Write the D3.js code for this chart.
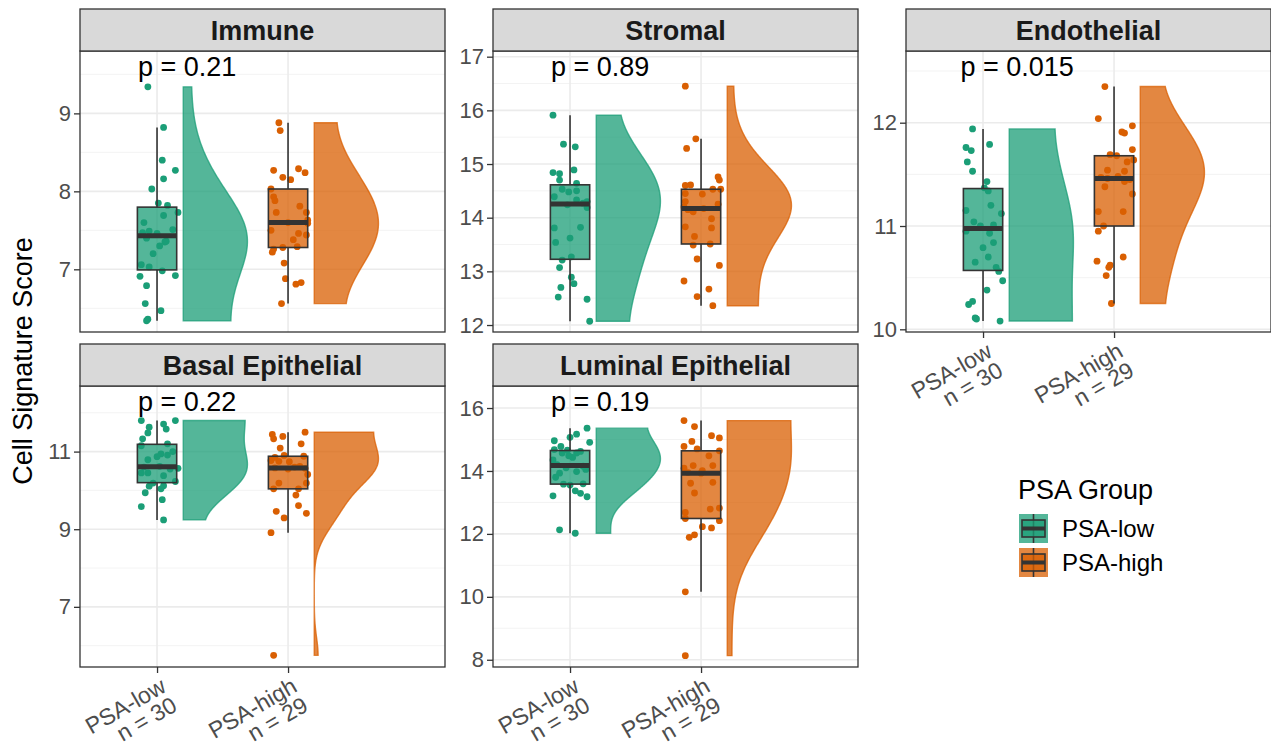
<!DOCTYPE html>
<html>
<head>
<meta charset="utf-8">
<script src="https://cdn.jsdelivr.net/npm/d3@7"></script>
<style>
  body { margin: 0; background: #fff; }
  svg { display: block; font-family: "Liberation Sans", Arial, Helvetica, sans-serif; }
</style>
</head>
<body>
<div id="chart"></div>
<script>
// ---- data ----
const categories = ["PSA-low", "PSA-high"];
const groupCounts = ["n = 30", "n = 29"];
const panelNames = ["Immune", "Stromal", "Endothelial", "Basal Epithelial", "Luminal Epithelial"];
const pLabels = ["p = 0.21", "p = 0.89", "p = 0.015", "p = 0.22", "p = 0.19"];

const yTicksImmune = [7, 8, 9];
const yTicksStromal = [12, 13, 14, 15, 16, 17];
const yTicksEndothelial = [10, 11, 12];
const yTicksBasal = [7, 9, 11];
const yTicksLuminal = [8, 10, 12, 14, 16];

const yLimitsImmune = [6.196, 9.80];
const yLimitsStromal = [11.87, 17.106];
const yLimitsEndothelial = [9.974, 12.694];
const yLimitsBasal = [5.45, 12.69];
const yLimitsLuminal = [7.77, 16.70];

const immuneLow = [9.34, 8.82, 8.40, 8.27, 8.16, 8.03, 7.85, 7.82, 7.73, 7.69, 7.51, 7.47, 7.49, 7.46, 7.40, 7.35, 7.36, 7.06, 7.03, 6.98, 6.91, 6.92, 6.79, 6.56, 6.47, 6.36, 6.34, 7.20, 7.30, 7.60];
const immuneHigh = [8.88, 8.78, 8.27, 8.29, 8.24, 8.18, 8.15, 8.03, 7.93, 7.88, 7.81, 7.73, 7.73, 7.63, 7.59, 7.50, 7.46, 7.44, 7.38, 7.26, 7.22, 7.28, 7.29, 7.08, 6.88, 6.81, 6.83, 6.56, 7.60];
const stromalLow = [15.91, 15.37, 15.32, 14.89, 14.84, 14.82, 14.70, 14.64, 14.53, 14.50, 14.48, 14.39, 14.33, 14.30, 14.19, 13.81, 13.82, 13.62, 13.54, 13.21, 13.27, 13.07, 12.89, 12.77, 12.70, 12.52, 12.48, 12.07, 14.24, 14.27];
const stromalHigh = [16.45, 15.47, 15.29, 14.76, 14.70, 14.61, 14.60, 14.53, 14.53, 14.45, 14.44, 14.30, 14.25, 14.11, 13.98, 13.83, 13.81, 13.65, 13.49, 13.51, 13.23, 13.11, 12.82, 12.67, 12.53, 12.36, 14.15, 14.17, 14.20];
const endoLow = [11.94, 11.79, 11.76, 11.73, 11.62, 11.53, 11.43, 11.37, 11.34, 11.20, 11.12, 11.15, 11.04, 10.95, 10.93, 10.84, 10.79, 10.70, 10.65, 10.56, 10.47, 10.38, 10.27, 10.24, 10.11, 10.10, 10.08, 10.60, 11.00, 11.01];
const endoHigh = [12.35, 12.04, 11.97, 11.91, 11.90, 11.74, 11.69, 11.68, 11.62, 11.64, 11.54, 11.53, 11.38, 11.31, 11.43, 11.14, 11.14, 10.95, 10.70, 10.66, 10.62, 10.60, 10.52, 10.25, 11.47, 11.48, 11.45, 11.00, 11.46];
const basalLow = [11.80, 11.80, 11.63, 11.71, 11.58, 11.48, 11.33, 11.15, 10.94, 10.91, 11.00, 10.87, 10.79, 10.57, 10.45, 10.45, 10.38, 10.23, 10.11, 10.12, 10.04, 9.94, 9.76, 9.58, 9.24, 10.19, 10.55, 10.60, 10.62, 11.20];
const basalHigh = [11.44, 11.33, 11.39, 11.50, 11.20, 11.09, 10.90, 10.77, 10.75, 10.74, 10.60, 10.57, 10.41, 10.19, 10.19, 10.04, 10.04, 9.88, 9.61, 9.41, 9.46, 9.29, 8.91, 5.75, 10.55, 10.58, 10.62, 10.88, 10.85];
const luminalLow = [15.36, 15.17, 15.07, 14.91, 14.96, 14.78, 14.68, 14.57, 14.57, 14.48, 14.43, 14.35, 13.98, 13.93, 13.80, 13.58, 13.37, 13.29, 13.18, 13.21, 12.13, 12.02, 14.10, 14.15, 14.20, 14.62, 14.66, 14.05, 13.55, 13.59];
const luminalHigh = [15.60, 15.41, 15.12, 15.05, 14.94, 14.78, 14.70, 14.64, 14.48, 14.17, 14.17, 14.09, 14.01, 13.61, 13.64, 13.30, 12.79, 12.82, 12.68, 12.49, 12.42, 12.23, 12.19, 11.89, 11.97, 10.16, 8.13, 13.93, 13.95];

// horizontal jitter of each point (in category units), as seen in the figure
const jitterImmuneLow = [-0.07, 0.05, 0.04, 0.14, 0.05, -0.04, 0.01, 0.08, 0.16, 0.05, 0.12, -0.11, -0.06, 0.00, -0.08, 0.06, 0.07, -0.12, -0.06, 0.04, -0.13, 0.14, -0.08, -0.09, 0.03, -0.07, -0.08, -0.03, 0.02, -0.10];
const jitterImmuneHigh = [-0.07, -0.06, -0.11, 0.08, 0.13, -0.04, 0.02, -0.13, -0.11, -0.10, 0.09, -0.09, 0.14, 0.15, 0.15, -0.13, 0.08, 0.14, 0.04, -0.11, -0.12, -0.04, 0.07, -0.03, -0.02, 0.06, 0.10, -0.05, 0.00];
const jitterStromalLow = [-0.13, -0.05, 0.04, 0.03, -0.13, -0.08, -0.08, 0.05, -0.06, 0.05, -0.01, -0.12, 0.05, 0.13, 0.13, -0.12, 0.08, 0.00, -0.11, -0.06, 0.01, -0.08, 0.01, 0.03, -0.07, -0.09, 0.13, 0.15, -0.02, 0.10];
const jitterStromalHigh = [-0.12, -0.04, -0.11, 0.13, 0.14, -0.08, -0.12, 0.09, 0.15, -0.12, 0.01, -0.12, 0.13, -0.06, 0.08, -0.12, 0.08, -0.05, -0.06, 0.07, -0.03, 0.14, -0.13, 0.06, -0.03, 0.09, -0.10, 0.02, -0.13];
const jitterEndoLow = [-0.08, 0.05, -0.13, -0.09, -0.12, -0.08, 0.03, 0.01, 0.04, 0.06, 0.14, -0.13, -0.07, -0.13, 0.05, 0.08, 0.00, 0.04, -0.06, 0.12, 0.15, 0.03, -0.08, -0.11, -0.06, -0.05, 0.13, 0.10, -0.02, 0.08];
const jitterEndoHigh = [-0.07, -0.12, 0.14, 0.06, 0.08, 0.14, -0.03, 0.02, 0.10, 0.15, -0.05, 0.08, -0.07, 0.14, 0.08, -0.12, 0.07, -0.12, 0.07, -0.13, -0.03, -0.04, -0.06, -0.02, -0.10, 0.03, 0.12, -0.08, -0.05];
const jitterBasalLow = [-0.12, 0.14, -0.06, 0.05, 0.07, -0.07, -0.11, -0.12, 0.03, 0.08, 0.12, 0.00, -0.07, 0.16, -0.07, -0.12, 0.05, 0.14, -0.06, 0.05, 0.03, -0.09, 0.04, -0.12, 0.05, -0.03, 0.10, -0.10, 0.02, 0.08];
const jitterBasalHigh = [-0.12, -0.11, -0.04, 0.13, 0.10, -0.06, -0.03, -0.13, -0.07, 0.01, 0.05, 0.13, 0.15, -0.07, 0.14, -0.11, 0.08, 0.06, 0.08, 0.14, -0.09, -0.03, -0.13, -0.11, 0.00, -0.10, 0.09, 0.12, -0.10];
const jitterLuminalLow = [0.13, 0.05, 0.00, 0.15, -0.12, -0.07, -0.12, -0.06, 0.05, -0.01, 0.02, -0.13, 0.05, -0.08, -0.11, -0.05, 0.04, 0.08, 0.13, -0.13, -0.08, 0.04, -0.03, 0.10, -0.10, 0.08, -0.02, 0.12, 0.00, 0.10];
const jitterLuminalHigh = [-0.13, -0.05, 0.08, 0.14, -0.07, -0.13, -0.03, 0.14, 0.06, -0.06, 0.09, -0.13, 0.01, -0.08, 0.09, -0.05, 0.07, 0.14, -0.12, -0.12, 0.14, 0.01, 0.08, -0.09, -0.05, -0.12, -0.12, 0.00, -0.10];

// ---- layout ----
const W = 1271, H = 754;
const panelW = 365, panelH = 281, stripH = 42;
const colX = [80, 493, 906];
const rowY = [9, 344];
const colors = ["#1B9E77", "#D95F02"];
const fillAlpha = 0.75;
const bwAdjust = 1.6;

const panels = [
  { name: panelNames[0], p: pLabels[0], col: 0, row: 0, ticks: yTicksImmune, lim: yLimitsImmune, groups: [immuneLow, immuneHigh], jit: [jitterImmuneLow, jitterImmuneHigh], xAxis: false },
  { name: panelNames[1], p: pLabels[1], col: 1, row: 0, ticks: yTicksStromal, lim: yLimitsStromal, groups: [stromalLow, stromalHigh], jit: [jitterStromalLow, jitterStromalHigh], xAxis: false },
  { name: panelNames[2], p: pLabels[2], col: 2, row: 0, ticks: yTicksEndothelial, lim: yLimitsEndothelial, groups: [endoLow, endoHigh], jit: [jitterEndoLow, jitterEndoHigh], xAxis: true },
  { name: panelNames[3], p: pLabels[3], col: 0, row: 1, ticks: yTicksBasal, lim: yLimitsBasal, groups: [basalLow, basalHigh], jit: [jitterBasalLow, jitterBasalHigh], xAxis: true },
  { name: panelNames[4], p: pLabels[4], col: 1, row: 1, ticks: yTicksLuminal, lim: yLimitsLuminal, groups: [luminalLow, luminalHigh], jit: [jitterLuminalLow, jitterLuminalHigh], xAxis: true },
];

const svg = d3.select("#chart").append("svg").attr("width", W).attr("height", H);
svg.append("rect").attr("width", W).attr("height", H).attr("fill", "#fff");

function nrd0(v) {
  const s = d3.deviation(v);
  const iqr = (d3.quantile(v, 0.75) - d3.quantile(v, 0.25)) / 1.34;
  let lo = Math.min(s, iqr);
  if (!(lo > 0)) lo = s || 1;
  return 0.9 * lo * Math.pow(v.length, -0.2);
}

// Cooke's estimate of the support bounds (sparse ends -> bound far away)
function cookeBounds(v) {
  const n = v.length;
  let sLo = 0, sHi = 0;
  for (let i = 0; i < n; i++) {
    const w = Math.pow(1 - i / n, n) - Math.pow(1 - (i + 1) / n, n);
    sLo += w * v[i];
    sHi += w * v[n - 1 - i];
  }
  return [2 * v[0] - sLo, 2 * v[n - 1] - sHi];
}

// gaussian kde, reflected at the estimated bounds, trimmed to the data range
function density(values) {
  const v = values.slice().sort(d3.ascending);
  const lo = v[0], hi = v[v.length - 1];
  const [bLo, bHi] = cookeBounds(v);
  const bw = nrd0(v) * bwAdjust;
  const k = z => Math.exp(-0.5 * z * z);
  const pts = d3.range(241).map(i => {
    const y = lo + (hi - lo) * i / 240;
    let s = 0;
    for (const x of v) s += k((y - x) / bw) + k((y - (2 * bLo - x)) / bw) + k((y - (2 * bHi - x)) / bw);
    return [y, s];
  });
  const m = d3.max(pts, d => d[1]);
  return pts.map(d => [d[0], d[1] / m]);
}

function boxStats(values) {
  const v = values.slice().sort(d3.ascending);
  const q1 = d3.quantile(v, 0.25), med = d3.quantile(v, 0.5), q3 = d3.quantile(v, 0.75);
  const iqr = q3 - q1;
  const lo = d3.min(v.filter(d => d >= q1 - 1.5 * iqr));
  const hi = d3.max(v.filter(d => d <= q3 + 1.5 * iqr));
  return { q1, med, q3, lo, hi };
}

function fade(c) {
  const col = d3.color(c); col.opacity = fillAlpha; return col.toString();
}

panels.forEach(P => {
  const x0 = colX[P.col], top = rowY[P.row] + stripH;
  const g = svg.append("g");
  const x = d3.scaleLinear().domain([0.412, 3.198]).range([x0, x0 + panelW]);
  const y = d3.scaleLinear().domain(P.lim).range([top + panelH, top]);

  // grid
  const step = P.ticks[1] - P.ticks[0];
  const minor = d3.range(P.ticks[0] - step / 2, P.lim[1], step).filter(d => d > P.lim[0] && d < P.lim[1]);
  g.append("rect").attr("x", x0).attr("y", top).attr("width", panelW).attr("height", panelH).attr("fill", "#fff");
  g.selectAll(".minor").data(minor).join("line")
    .attr("x1", x0).attr("x2", x0 + panelW).attr("y1", d => y(d)).attr("y2", d => y(d))
    .attr("stroke", "#f2f2f2").attr("stroke-width", 0.9);
  g.selectAll(".majorY").data(P.ticks).join("line")
    .attr("x1", x0).attr("x2", x0 + panelW).attr("y1", d => y(d)).attr("y2", d => y(d))
    .attr("stroke", "#ebebeb").attr("stroke-width", 1.6);
  g.selectAll(".majorX").data([1, 2]).join("line")
    .attr("x1", d => x(d)).attr("x2", d => x(d)).attr("y1", top).attr("y2", top + panelH)
    .attr("stroke", "#ebebeb").attr("stroke-width", 1.6);

  P.groups.forEach((vals, gi) => {
    const c = gi + 1;
    const col = colors[gi];
    // half violin
    const dens = density(vals);
    const area = d3.area()
      .y(d => y(d[0]))
      .x0(x(c + 0.2))
      .x1(d => x(c + 0.2 + 0.49 * d[1]));
    g.append("path").attr("d", area(dens))
      .attr("fill", fade(col)).attr("stroke", fade(col)).attr("stroke-width", 1.4);

    // jittered points
    g.selectAll(null).data(vals.map((v, i) => [v, P.jit[gi][i]])).join("circle")
      .attr("cx", d => x(c + d[1])).attr("cy", d => y(d[0])).attr("r", 3.4)
      .attr("fill", col);

    // boxplot
    const b = boxStats(vals);
    const bw = 0.15;
    g.append("line").attr("x1", x(c)).attr("x2", x(c)).attr("y1", y(b.hi)).attr("y2", y(b.q3))
      .attr("stroke", "#333").attr("stroke-width", 1.6);
    g.append("line").attr("x1", x(c)).attr("x2", x(c)).attr("y1", y(b.q1)).attr("y2", y(b.lo))
      .attr("stroke", "#333").attr("stroke-width", 1.6);
    g.append("rect").attr("x", x(c - bw)).attr("width", x(c + bw) - x(c - bw))
      .attr("y", y(b.q3)).attr("height", y(b.q1) - y(b.q3))
      .attr("fill", fade(col)).attr("stroke", "#333").attr("stroke-width", 1.6);
    g.append("line").attr("x1", x(c - bw)).attr("x2", x(c + bw)).attr("y1", y(b.med)).attr("y2", y(b.med))
      .attr("stroke", "#333").attr("stroke-width", 5);
  });

  // p value label
  const pt = g.append("text").attr("y", top + 25).attr("font-size", 27).attr("fill", "#000").text(P.p);
  const len = pt.node().getComputedTextLength();
  pt.attr("x", x(1.035) - 0.24 * len);

  // panel border
  g.append("rect").attr("x", x0).attr("y", top).attr("width", panelW).attr("height", panelH)
    .attr("fill", "none").attr("stroke", "#333").attr("stroke-width", 1.3);

  // strip
  g.append("rect").attr("x", x0).attr("y", rowY[P.row]).attr("width", panelW).attr("height", stripH)
    .attr("fill", "#d9d9d9").attr("stroke", "#333").attr("stroke-width", 1.3);
  g.append("text").attr("x", x0 + panelW / 2).attr("y", rowY[P.row] + 31)
    .attr("text-anchor", "middle").attr("font-size", 27).attr("font-weight", "bold").attr("fill", "#1a1a1a")
    .text(P.name);

  // y axis
  const ya = g.append("g").attr("transform", `translate(${x0},0)`)
    .call(d3.axisLeft(y).tickValues(P.ticks).tickSize(6).tickPadding(3).tickFormat(d3.format("d")));
  ya.select(".domain").remove();
  ya.selectAll(".tick line").attr("stroke", "#333").attr("stroke-width", 1.3);
  ya.selectAll(".tick text").attr("font-size", 22).attr("fill", "#4d4d4d").attr("font-family", null);

  // x axis
  if (P.xAxis) {
    const xa = g.append("g").attr("transform", `translate(0,${top + panelH})`)
      .call(d3.axisBottom(x).tickValues([1, 2]).tickSize(6).tickFormat(""));
    xa.select(".domain").remove();
    xa.selectAll(".tick line").attr("stroke", "#333").attr("stroke-width", 1.3);
    [1, 2].forEach((c, i) => {
      const t = g.append("text")
        .attr("transform", `translate(${x(c) + 2},${top + panelH + 9}) rotate(-30)`)
        .attr("text-anchor", "end").attr("font-size", 23).attr("fill", "#4d4d4d");
      t.append("tspan").attr("x", 0).attr("y", 17).text(categories[i]);
      t.append("tspan").attr("x", 0).attr("y", 39).text(groupCounts[i]);
    });
  }
});

// y axis title
svg.append("text").attr("transform", "translate(32,361) rotate(-90)")
  .attr("text-anchor", "middle").attr("font-size", 27).attr("fill", "#000")
  .text("Cell Signature Score");

// legend
const lg = svg.append("g");
lg.append("text").attr("x", 1018).attr("y", 499).attr("font-size", 27).attr("fill", "#000").text("PSA Group");
categories.forEach((cat, i) => {
  const ky = 514 + i * 34, kx = 1019, ks = 29;
  const col = colors[i];
  lg.append("rect").attr("x", kx).attr("y", ky).attr("width", ks).attr("height", ks).attr("fill", fade(col));
  lg.append("line").attr("x1", kx + ks / 2).attr("x2", kx + ks / 2).attr("y1", ky).attr("y2", ky + ks)
    .attr("stroke", "#333").attr("stroke-width", 1.6);
  lg.append("rect").attr("x", kx + 3).attr("y", ky + 6).attr("width", ks - 6).attr("height", ks - 12)
    .attr("fill", fade(col)).attr("stroke", "#333").attr("stroke-width", 1.6);
  lg.append("line").attr("x1", kx + 3).attr("x2", kx + ks - 3).attr("y1", ky + ks / 2).attr("y2", ky + ks / 2)
    .attr("stroke", "#333").attr("stroke-width", 4);
  lg.append("text").attr("x", 1062).attr("y", ky + ks / 2 + 8.5).attr("font-size", 24).attr("fill", "#000").text(cat);
});
</script>
</body>
</html>
